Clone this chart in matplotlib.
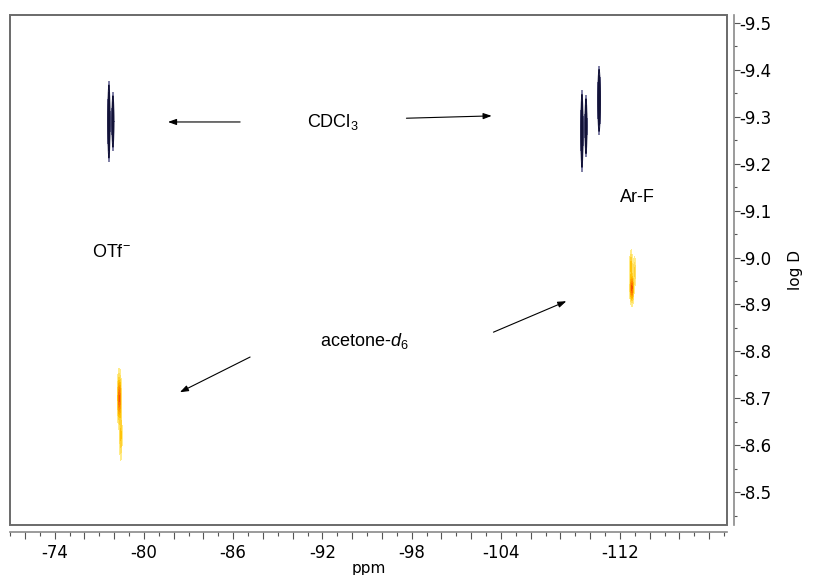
import numpy as np
import matplotlib.pyplot as plt
from matplotlib.patches import Rectangle
from matplotlib.colors import LinearSegmentedColormap
from matplotlib.ticker import FixedLocator, MultipleLocator, FuncFormatter

plt.rcParams["mathtext.fontset"] = "custom"
plt.rcParams["mathtext.rm"] = "Liberation Sans"
plt.rcParams["mathtext.it"] = "Liberation Sans:italic"

# 峰的数据: 化学位移(ppm), log D, ppm 宽度, log D 宽度, 强度
navy_ppm = [-77.65, -77.92, -109.45, -109.72, -110.6]
navy_logd = [-9.29, -9.29, -9.27, -9.28, -9.335]
navy_wx = [0.035, 0.035, 0.035, 0.035, 0.04]
navy_wy = [0.040, 0.030, 0.040, 0.032, 0.034]
navy_amp = [1.0, 0.8, 1.0, 0.8, 1.0]

warm_ppm = [-78.35, -78.45, -112.8, -112.75, -112.98]
warm_logd = [-8.70, -8.62, -8.935, -8.985, -8.97]
warm_wx = [0.07, 0.05, 0.07, 0.05, 0.05]
warm_wy = [0.030, 0.030, 0.018, 0.018, 0.020]
warm_amp = [1.0, 0.45, 1.0, 0.45, 0.35]

x_tick_labels = [-74, -80, -86, -92, -98, -104, -112]
y_ticks = [-9.5, -9.4, -9.3, -9.2, -9.1, -9.0, -8.9, -8.8, -8.7, -8.6, -8.5]

# 网格
xx = np.linspace(-71, -119.2, 6000)
yy = np.linspace(-8.43, -9.52, 700)
X, Y = np.meshgrid(xx, yy)


def peaks(px, py, wx, wy, amp):
    z = np.zeros_like(X)
    for a, b, c, d, e in zip(px, py, wx, wy, amp):
        z += e * np.exp(-((X - a) / c) ** 2 / 2 - ((Y - b) / d) ** 2 / 2)
    return z


z_navy = peaks(navy_ppm, navy_logd, navy_wx, navy_wy, navy_amp)
z_warm = peaks(warm_ppm, warm_logd, warm_wx, warm_wy, warm_amp)

fig = plt.figure(figsize=(8.15, 5.75), dpi=100)
ax = fig.add_axes([10 / 815, 1 - 525 / 575, 717 / 815, 510 / 575])

ax.contourf(X, Y, z_navy, levels=[0.1, 2], colors=["#4a4a80"], alpha=0.7)
ax.contour(X, Y, z_navy, levels=np.linspace(0.15, 1.0, 7),
           colors="#121238", linewidths=0.7)

warm = LinearSegmentedColormap.from_list("warm", ["#fff3a0", "#ffc000", "#ff7a00", "#e00000"])
ax.contourf(X, Y, z_warm, levels=np.linspace(0.1, 1.3, 12), cmap=warm)

ax.set_xlim(-71, -119.2)
ax.set_ylim(-8.43, -9.517)

# 框线
ax.add_patch(Rectangle((0, 0), 1, 1, transform=ax.transAxes, fill=False,
                       edgecolor="#6a6a6a", linewidth=1.4, clip_on=False))
for s in ["top", "left"]:
    ax.spines[s].set_visible(False)
for s in ["bottom", "right"]:
    ax.spines[s].set_position(("outward", 5))
    ax.spines[s].set_color("#8a8a8a")
    ax.spines[s].set_linewidth(1.2)

# x 轴刻度
ax.xaxis.set_major_locator(FixedLocator(np.arange(-72, -120, -2)))
ax.xaxis.set_minor_locator(MultipleLocator(1))
ax.xaxis.set_major_formatter(FuncFormatter(
    lambda v, p: f"{v:.0f}" if round(v) in x_tick_labels else ""))
ax.tick_params(axis="x", which="major", length=5, width=0.8, color="#555555",
               labelsize=12, pad=4)
ax.tick_params(axis="x", which="minor", length=3, width=0.8, color="#555555")

# y 轴刻度
ax.yaxis.tick_right()
ax.yaxis.set_label_position("right")
ax.set_yticks(y_ticks)
ax.set_yticklabels([f"{v:.1f}" for v in y_ticks])
ax.yaxis.set_minor_locator(MultipleLocator(0.05))
ax.tick_params(axis="y", which="major", length=4, width=0.8, color="#555555",
               labelsize=12, pad=0)
ax.tick_params(axis="y", which="minor", length=2, width=0.8, color="#555555")

ax.set_xlabel("ppm", fontsize=11, labelpad=-1)
ax.set_ylabel("log D", fontsize=11, labelpad=12)

# 标注
font = dict(family="Liberation Sans", fontsize=13, ha="center", va="center")
ax.text(-92.73, -9.289, "CDCl$_3$", **font)
ax.text(-113.15, -9.129, "Ar-F", **font)
ax.text(-77.8, -9.01, "OTf$^{-}$", **font)
ax.text(-94.8, -8.822, "acetone-$d_6$", **font)

arrow = dict(arrowstyle="-|>,head_length=0.5,head_width=0.18", color="black", lw=0.8,
             shrinkA=0, shrinkB=0)
ax.annotate("", xy=(-81.62, -9.289), xytext=(-86.47, -9.289), arrowprops=arrow)
ax.annotate("", xy=(-103.38, -9.302), xytext=(-97.65, -9.297), arrowprops=arrow)
ax.annotate("", xy=(-82.42, -8.713), xytext=(-87.14, -8.788), arrowprops=arrow)
ax.annotate("", xy=(-108.4, -8.907), xytext=(-103.5, -8.841), arrowprops=arrow)

plt.savefig("out.png", dpi=100)
